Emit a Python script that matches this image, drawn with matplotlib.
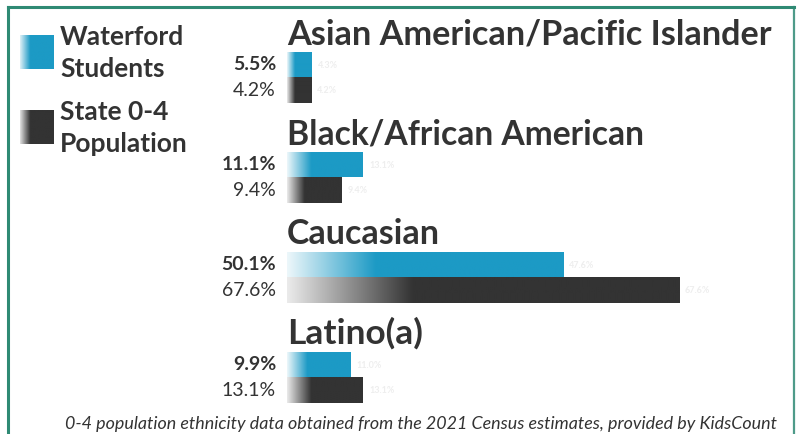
import matplotlib
matplotlib.use("Agg")
import matplotlib.pyplot as plt
import numpy as np
from matplotlib.colors import to_rgb

# ---------------- data ----------------
categories = ["Asian American/Pacific Islander", "Black/African American", "Caucasian", "Latino(a)"]
waterford_bar = [4.3, 13.1, 47.6, 11.0]
state_bar = [4.2, 9.4, 67.6, 13.1]
waterford_labels = ["5.5%", "11.1%", "50.1%", "9.9%"]
state_labels = ["4.2%", "9.4%", "67.6%", "13.1%"]
waterford_bar_labels = ["4.3%", "13.1%", "47.6%", "11.0%"]
state_bar_labels = ["4.2%", "9.4%", "67.6%", "13.1%"]
series_names = [["Waterford", "Students"], ["State 0-4", "Population"]]
footnote = "0-4 population ethnicity data obtained from the 2021 Census estimates, provided by KidsCount"

BLUE = "#1c9ac5"
DARK = "#333333"
TXT = "#333333"
TEAL = "#2f8a74"
FONT = "Lato"

W, H = 799, 434
fig = plt.figure(figsize=(W / 100, H / 100), dpi=100)
fig.patch.set_facecolor("white")

# axes covering the whole figure; x: percent, 0 at px 287, 5.8 px per %
PX_PER = 5.8
X0 = 287
ax = fig.add_axes([0, 0, 1, 1])
ax.set_xlim(-X0 / PX_PER, (W - X0) / PX_PER)
# y: group units, 100 px per group, group 0 blue bar center at px 64.5
ax.set_ylim((H - 64.5) / 100, -64.5 / 100)
ax.axis("off")

ypos = np.arange(len(categories))
bh = 0.255
b1 = ax.barh(ypos, waterford_bar, height=bh, color=BLUE)
b2 = ax.barh(ypos + bh, state_bar, height=bh, color=DARK)


def gradient_fill(patch, color, start_light=0.08, frac=0.32):
    x, y = patch.get_x(), patch.get_y()
    w, h = patch.get_width(), patch.get_height()
    n = 200
    t = np.linspace(0, 1, n)
    a = np.clip(start_light + (1 - start_light) * (t / frac), 0, 1)
    c = np.array(to_rgb(color))
    img = (1 - a)[:, None] * np.ones(3)[None, :] + a[:, None] * c[None, :]
    img = img[None, :, :]
    im = ax.imshow(img, extent=[x, x + w, y + h, y], aspect="auto",
                   interpolation="bilinear", zorder=3)
    im.set_clip_path(patch)
    patch.set_facecolor("none")


for p in b1.patches:
    gradient_fill(p, BLUE)
for p in b2.patches:
    gradient_fill(p, DARK, start_light=0.1)

fig.canvas.draw()
renderer = fig.canvas.get_renderer()


def fit(t, target_px):
    bb = t.get_window_extent(renderer)
    t.set_fontsize(t.get_fontsize() * target_px / bb.width)


title_widths = [485, 357, 153, 136]
for i, cat in enumerate(categories):
    t = ax.text(0, i - 0.205, cat, fontsize=24, fontweight="bold", color=TXT,
                family=FONT, ha="left", va="baseline")
    fit(t, title_widths[i])

for i in range(len(categories)):
    ax.text(-11 / PX_PER, i + 0.06, waterford_labels[i], fontsize=14, fontweight="bold",
            color=TXT, family=FONT, ha="right", va="baseline")
    ax.text(-11 / PX_PER, i + bh + 0.06, state_labels[i], fontsize=14,
            color=TXT, family=FONT, ha="right", va="baseline")
    ax.text(waterford_bar[i] + 6 / PX_PER, i + 0.03, waterford_bar_labels[i], fontsize=6.5,
            fontweight="bold", color="#eeeeee", family=FONT, ha="left", va="baseline")
    ax.text(state_bar[i] + 6 / PX_PER, i + bh + 0.03, state_bar_labels[i], fontsize=6.5,
            fontweight="bold", color="#eeeeee", family=FONT, ha="left", va="baseline")


def px(x, y):
    return x / W, 1 - y / H


# legend
for k, (col, ytop) in enumerate([(BLUE, 35), (DARK, 110)]):
    n = 100
    t = np.linspace(0, 1, n)
    a = np.clip(0.15 + 0.85 * t / 0.3, 0, 1)
    c = np.array(to_rgb(col))
    img = ((1 - a)[:, None] * np.ones(3) + a[:, None] * c)[None, :, :]
    lax = fig.add_axes([20 / W, 1 - (ytop + 34) / H, 34 / W, 34 / H])
    lax.imshow(img, aspect="auto", extent=[0, 1, 0, 1], interpolation="bilinear")
    lax.axis("off")
    for j, line in enumerate(series_names[k]):
        fig.text(*px(60, ytop + 10 + 32 * j), line, fontsize=19, fontweight="bold",
                 color=TXT, family=FONT, ha="left", va="baseline")

# border
fig.add_artist(plt.Line2D([7.5 / W, 7.5 / W], [0, 1 - 6.5 / H], color=TEAL, lw=2.2,
                          transform=fig.transFigure))
fig.add_artist(plt.Line2D([7.5 / W, 793.5 / W], [1 - 6.5 / H, 1 - 6.5 / H], color=TEAL, lw=2.2,
                          transform=fig.transFigure))
fig.add_artist(plt.Line2D([793.5 / W, 793.5 / W], [0, 1 - 6.5 / H], color=TEAL, lw=1.6,
                          alpha=0.85, transform=fig.transFigure))

ft = fig.text(*px(65, 429), footnote, fontsize=12, style="italic", color=TXT,
              family=FONT, ha="left", va="baseline")
fit(ft, 708)

fig.savefig("out.png", dpi=100, facecolor="white")
